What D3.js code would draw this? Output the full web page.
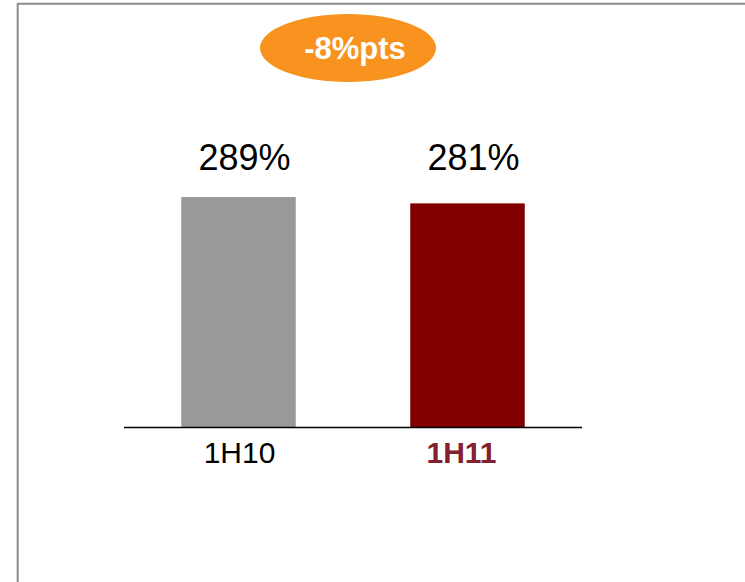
<!DOCTYPE html>
<html><head><meta charset="utf-8">
<script src="https://cdn.jsdelivr.net/npm/d3@7"></script>
<style>html,body{margin:0;padding:0;background:#fff;}svg{display:block;}</style>
</head><body>
<svg id="c" width="745" height="582"></svg>
<script>
const categories = ["1H10", "1H11"];
const values = [289, 281];
const valueLabels = ["289%", "281%"];
const changeLabel = "-8%pts";
const barColors = ["#999999", "#800000"];
const catColors = ["#000000", "#84202f"];
const catWeights = ["normal", "bold"];

const svg = d3.select("#c");
// frame
svg.append("path").attr("d", "M17.7,582V3.7H745").attr("fill", "none")
  .attr("stroke", "#8c8c8c").attr("stroke-width", 2);

const x = d3.scaleBand().domain(categories).range([124, 582]).paddingInner(0.5).paddingOuter(0.25);
const baseY = 427.5;
const y = d3.scaleLinear().domain([0, 289]).range([baseY, 197]);

svg.selectAll("rect.bar").data(values).join("rect").attr("class", "bar")
  .attr("x", (d, i) => x(categories[i])).attr("width", x.bandwidth())
  .attr("y", d => y(d)).attr("height", d => y(0) - y(d))
  .attr("fill", (d, i) => barColors[i]);

// axis baseline
svg.append("line").attr("x1", 124).attr("x2", 582).attr("y1", baseY).attr("y2", baseY)
  .attr("stroke", "#000").attr("stroke-width", 1.5);

svg.selectAll("text.val").data(values).join("text").attr("class", "val")
  .attr("x", (d, i) => x(categories[i]) + x.bandwidth() / 2 + 6)
  .attr("y", 170)
  .attr("text-anchor", "middle")
  .attr("font-family", "Liberation Sans, Arial, sans-serif")
  .attr("font-size", 36)
  .attr("fill", "#000")
  .text((d, i) => valueLabels[i]);

svg.selectAll("text.cat").data(categories).join("text").attr("class", "cat")
  .attr("x", (d, i) => x(d) + x.bandwidth() / 2 + (i === 0 ? 1 : -6))
  .attr("y", 463)
  .attr("text-anchor", "middle")
  .attr("font-family", "Liberation Sans, Arial, sans-serif")
  .attr("font-size", 30)
  .attr("font-weight", (d, i) => catWeights[i])
  .attr("fill", (d, i) => catColors[i])
  .text(d => d);

// change bubble
svg.append("ellipse").attr("cx", 348).attr("cy", 48).attr("rx", 88).attr("ry", 34)
  .attr("fill", "#f7931e");
svg.append("text").attr("x", 355).attr("y", 59).attr("text-anchor", "middle")
  .attr("font-family", "Liberation Sans, Arial, sans-serif").attr("font-size", 31)
  .attr("font-weight", "bold").attr("fill", "#fff").text(changeLabel);
</script>
</body></html>
